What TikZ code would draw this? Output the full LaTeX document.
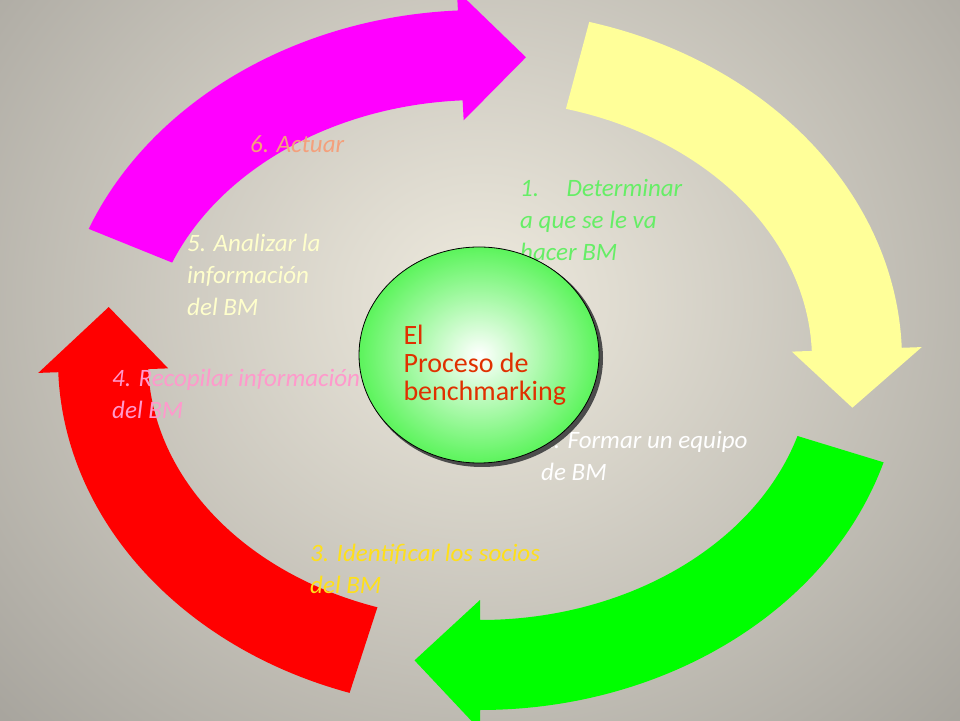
\documentclass[tikz,border=0pt]{standalone}
\usepackage{fontspec}
\setmainfont{Carlito}
\usetikzlibrary{calc}

\definecolor{bgin}{HTML}{EEEADE}
\definecolor{bgout}{HTML}{A6A39C}
\definecolor{magentaA}{HTML}{FF00FF}
\definecolor{yellowA}{HTML}{FFFF99}
\definecolor{greenA}{HTML}{00FF00}
\definecolor{redA}{HTML}{FF0000}
\definecolor{ballgreen}{HTML}{5CF45C}
\definecolor{salmon}{HTML}{F4A07C}
\definecolor{lightgreen}{HTML}{66EE66}
\definecolor{cream}{HTML}{FFFFCC}
\definecolor{pinkT}{HTML}{FF99CC}
\definecolor{yellowT}{HTML}{FFE01A}
\definecolor{titlered}{HTML}{E03000}

% ring arrow: colour, tail angle, head angle, tip angle
\newcommand{\ringarrow}[4]{%
  \fill[#1] ($(c)+(#2:422pt and 350pt)$)
    arc[start angle=#2, end angle=#3, x radius=422pt, y radius=350pt]
    -- ($(c)+(#3:442pt and 370pt)$)
    -- ($(c)+(#4:377pt and 305pt)$)
    -- ($(c)+(#3:312pt and 240pt)$)
    -- ($(c)+(#3:332pt and 260pt)$)
    arc[start angle=#3, end angle=#2, x radius=332pt, y radius=260pt]
    -- cycle;}

\begin{document}
\begin{tikzpicture}[x=1pt,y=1pt,
    steptext/.style={font=\fontsize{25}{32}\selectfont\itshape, align=left, anchor=north west, inner sep=0pt}]
  \useasboundingbox (0,0) rectangle (960,720);
  % background
  \begin{scope}
    \clip (0,0) rectangle (960,720);
    \shade[inner color=bgin, outer color=bgout] (-200,-200) rectangle (1160,1040);
  \end{scope}
  \coordinate (c) at (480,360);

  % arrows
  \ringarrow{magentaA}{158}{93}{83}
  \ringarrow{yellowA}{75}{2}{-9}
  \ringarrow{greenA}{-17}{-90}{-100}
  \ringarrow{redA}{-108}{-178}{170}

  % labels
  \node[steptext, text=salmon] (act) at (250,585) {6. Actuar};
  \node[steptext, text=lightgreen] (det) at (520,541) {1.\hspace{1.1em}Determinar\\a que se le va\\hacer BM};
  \node[steptext, text=cream] (ana) at (187,486) {5. Analizar la\\información\\del BM};
  \node[steptext, text=pinkT] (rec) at (112,351) {4. Recopilar información\\del BM};
  \node[steptext, text=white] (for) at (541,289) {2. Formar un equipo\\de BM};
  \node[steptext, text=yellowT] (ide) at (310,176) {3. Identificar los socios\\del BM};

  % centre
  \fill[black!70] (482,362) ellipse[x radius=121pt, y radius=109pt];
  \shade[inner color=white, outer color=ballgreen, draw=black, thick] (479,365) ellipse[x radius=120pt, y radius=108pt];
  \node[font=\fontsize{28}{28}\selectfont, text=titlered, align=left, anchor=west] (proc) at (400,355) {El\\Proceso de\\benchmarking};
\end{tikzpicture}
\end{document}
